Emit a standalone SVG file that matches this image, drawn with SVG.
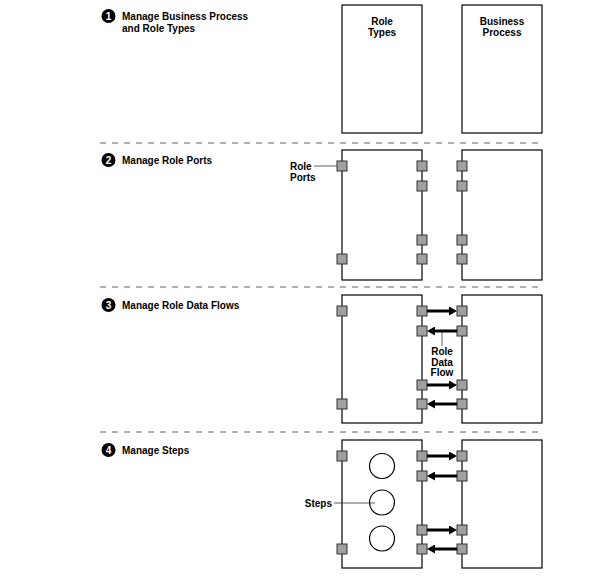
<svg xmlns="http://www.w3.org/2000/svg" width="600" height="576" viewBox="0 0 600 576">
<style>
text{font-family:"Liberation Sans",Arial,sans-serif;font-size:10px;font-weight:bold;fill:#000}
.box{fill:#fff;stroke:#000;stroke-width:1.2}
.port{fill:#a0a0a0;stroke:#333;stroke-width:1}
.sep{stroke:#b0b0b0;stroke-width:2;stroke-dasharray:6 6;fill:none}
.lead{stroke:#333;stroke-width:0.8;fill:none}
.flow{stroke:#000;stroke-width:3;fill:none;marker-end:url(#ah)}
.num{fill:#000}
.numt{fill:#fff;font-size:10px;text-anchor:middle}
.mid{text-anchor:middle}
.step{fill:#fff;stroke:#000;stroke-width:1.2}
</style>
<defs>
<marker id="ah" markerWidth="8" markerHeight="9" refX="0" refY="4.5" orient="auto" markerUnits="userSpaceOnUse"><path d="M0,0 L8,4.5 L0,9 z" fill="#000"/></marker>
</defs>

<g id="separators">
<line class="sep" x1="100" y1="143" x2="542" y2="143"/>
<line class="sep" x1="100" y1="287" x2="542" y2="287"/>
<line class="sep" x1="100" y1="432" x2="542" y2="432"/>
</g>

<!-- Section 1 -->
<g id="step1-label">
<circle class="num" cx="108.5" cy="16" r="7"/>
<text class="numt" x="108.5" y="19.6">1</text>
<text x="122" y="19.5">Manage Business Process</text>
<text x="122" y="32">and Role Types</text>
</g>
<g id="s1-role-types">
<rect class="box" x="342" y="5" width="80" height="128"/>
<text class="mid" x="382" y="25">Role</text>
<text class="mid" x="382" y="36">Types</text>
</g>
<g id="s1-business-process">
<rect class="box" x="462" y="5" width="80" height="128"/>
<text class="mid" x="502" y="25">Business</text>
<text class="mid" x="502" y="36">Process</text>
</g>

<!-- Section 2 -->
<g id="step2-label">
<circle class="num" cx="108.5" cy="160" r="7"/>
<text class="numt" x="108.5" y="163.6">2</text>
<text x="122" y="163.5">Manage Role Ports</text>
</g>
<g id="s2-role-types">
<rect class="box" x="342" y="150" width="80" height="130"/>
<rect class="port" x="337" y="161" width="10" height="10"/>
<rect class="port" x="337" y="254" width="10" height="10"/>
<rect class="port" x="417" y="161" width="10" height="10"/>
<rect class="port" x="417" y="181" width="10" height="10"/>
<rect class="port" x="417" y="235" width="10" height="10"/>
<rect class="port" x="417" y="254" width="10" height="10"/>
</g>
<g id="s2-business-process">
<rect class="box" x="462" y="150" width="80" height="130"/>
<rect class="port" x="457" y="161" width="10" height="10"/>
<rect class="port" x="457" y="181" width="10" height="10"/>
<rect class="port" x="457" y="235" width="10" height="10"/>
<rect class="port" x="457" y="254" width="10" height="10"/>
</g>
<g id="s2-role-ports-label">
<text x="290" y="170">Role</text>
<text x="290" y="181">Ports</text>
<line class="lead" x1="314" y1="166" x2="337" y2="166"/>
</g>

<!-- Section 3 -->
<g id="step3-label">
<circle class="num" cx="108.5" cy="305" r="7"/>
<text class="numt" x="108.5" y="308.6">3</text>
<text x="122" y="308.5">Manage Role Data Flows</text>
</g>
<g id="s3-role-types">
<rect class="box" x="342" y="295" width="80" height="128"/>
<rect class="port" x="337" y="306" width="10" height="10"/>
<rect class="port" x="337" y="399" width="10" height="10"/>
<rect class="port" x="417" y="306" width="10" height="10"/>
<rect class="port" x="417" y="326" width="10" height="10"/>
<rect class="port" x="417" y="380" width="10" height="10"/>
<rect class="port" x="417" y="399" width="10" height="10"/>
</g>
<g id="s3-business-process">
<rect class="box" x="462" y="295" width="80" height="128"/>
<rect class="port" x="457" y="306" width="10" height="10"/>
<rect class="port" x="457" y="326" width="10" height="10"/>
<rect class="port" x="457" y="380" width="10" height="10"/>
<rect class="port" x="457" y="399" width="10" height="10"/>
</g>
<g id="s3-role-data-flow-label">
<line class="lead" x1="442" y1="331" x2="442" y2="346"/>
<text class="mid" x="442" y="355">Role</text>
<text class="mid" x="442" y="365.5">Data</text>
<text class="mid" x="442" y="376">Flow</text>
</g>

<!-- Section 4 -->
<g id="step4-label">
<circle class="num" cx="108.5" cy="450" r="7"/>
<text class="numt" x="108.5" y="453.6">4</text>
<text x="122" y="453.5">Manage Steps</text>
</g>
<g id="s4-role-types">
<rect class="box" x="342" y="440" width="80" height="128"/>
<rect class="port" x="337" y="451" width="10" height="10"/>
<rect class="port" x="337" y="544" width="10" height="10"/>
<rect class="port" x="417" y="451" width="10" height="10"/>
<rect class="port" x="417" y="471" width="10" height="10"/>
<rect class="port" x="417" y="525" width="10" height="10"/>
<rect class="port" x="417" y="544" width="10" height="10"/>
</g>
<g id="s4-business-process">
<rect class="box" x="462" y="440" width="80" height="128"/>
<rect class="port" x="457" y="451" width="10" height="10"/>
<rect class="port" x="457" y="471" width="10" height="10"/>
<rect class="port" x="457" y="525" width="10" height="10"/>
<rect class="port" x="457" y="544" width="10" height="10"/>
</g>
<g id="step-a"><circle class="step" cx="382" cy="466" r="12.5"/></g>
<g id="step-b"><circle class="step" cx="382" cy="502.5" r="12.5"/></g>
<g id="step-c"><circle class="step" cx="382" cy="538.5" r="12.5"/></g>
<g id="s4-steps-label">
<text x="332" y="506.5" style="text-anchor:end">Steps</text>
<line class="lead" x1="334" y1="503" x2="375" y2="503"/>
</g>

<g id="connectors">
<line class="flow" x1="427" y1="311" x2="449" y2="311"/>
<line class="flow" x1="457" y1="331" x2="435" y2="331"/>
<line class="flow" x1="427" y1="385" x2="449" y2="385"/>
<line class="flow" x1="457" y1="404" x2="435" y2="404"/>
<line class="flow" x1="427" y1="456" x2="449" y2="456"/>
<line class="flow" x1="457" y1="476" x2="435" y2="476"/>
<line class="flow" x1="427" y1="530" x2="449" y2="530"/>
<line class="flow" x1="457" y1="549" x2="435" y2="549"/>
</g>
</svg>
